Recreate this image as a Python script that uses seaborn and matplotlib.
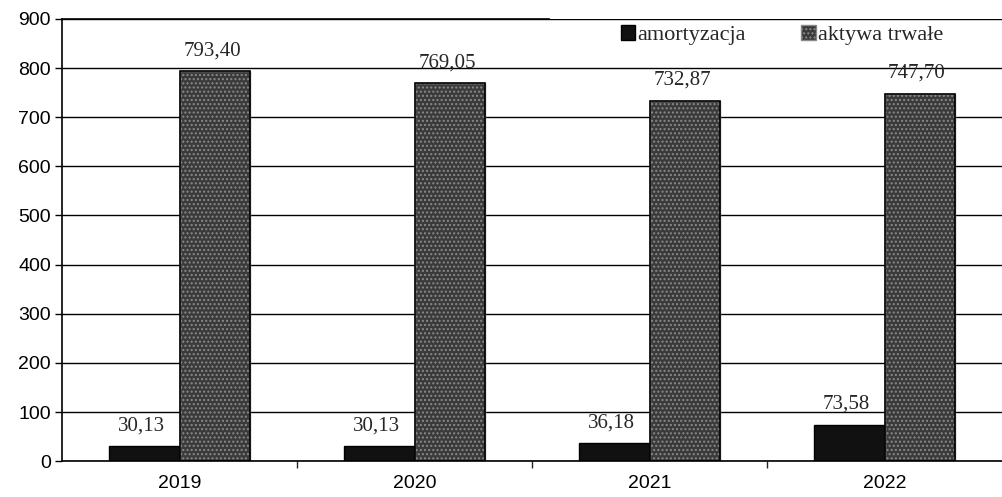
import matplotlib
matplotlib.use("Agg")
import matplotlib.pyplot as plt
import seaborn as sns
import pandas as pd
import numpy as np

years = ["2019", "2020", "2021", "2022"]
amortyzacja = [30.13, 30.13, 36.18, 73.58]
aktywa_trwale = [793.40, 769.05, 732.87, 747.70]
series_names = ["amortyzacja", "aktywa trwałe"]

df = pd.DataFrame({
    "rok": years * 2,
    "seria": [series_names[0]] * 4 + [series_names[1]] * 4,
    "wartosc": amortyzacja + aktywa_trwale,
})

sns.set_style("white")
plt.rcParams["font.family"] = ["Liberation Sans", "DejaVu Sans"]
serif = ["Liberation Serif", "DejaVu Serif"]

fig = plt.figure(figsize=(10.02, 4.97), dpi=100)
ax = fig.add_axes([0.062, 0.072, 0.938, 0.89])

ax.set_axisbelow(True)
ax.yaxis.grid(True, color="black", linewidth=1.0)

sns.barplot(data=df, x="rok", y="wartosc", hue="seria", hue_order=series_names,
            palette=["#111111", "#3a3a3a"], width=0.6, ax=ax,
            edgecolor="black", linewidth=1.0, legend=False)

# stippled fill on the fixed-assets bars
for bar in ax.containers[1]:
    bar.set_hatch("....")
    bar.set_edgecolor("#8a8a8a")
    ax.add_patch(plt.Rectangle(bar.get_xy(), bar.get_width(), bar.get_height(),
                               fill=False, edgecolor="black", linewidth=1.2, zorder=3))

def fmt(v):
    return f"{v:.2f}".replace(".", ",")

for cont, vals in zip(ax.containers, [amortyzacja, aktywa_trwale]):
    for bar, v in zip(cont, vals):
        ax.annotate(fmt(v), (bar.get_x() + bar.get_width() / 2, v),
                    xytext=(-2, 8), textcoords="offset points",
                    ha="center", va="bottom", fontsize=15, family=serif)

ax.set_ylim(0, 900)
ax.set_yticks(np.arange(0, 901, 100))
ax.set_xlim(-0.5, 3.5)
ax.set_xlabel("")
ax.set_ylabel("")
ax.tick_params(axis="both", labelsize=14, colors="black")
ax.tick_params(axis="y", length=5, width=1, left=True, direction="out", pad=3)
ax.tick_params(axis="x", length=0, pad=10)
ax.set_xticks([0.5, 1.5, 2.5], minor=True)
ax.tick_params(axis="x", which="minor", length=5, width=1, bottom=True, direction="out")

for side in ["left", "bottom", "top"]:
    ax.spines[side].set_visible(True)
    ax.spines[side].set_color("black")
    ax.spines[side].set_linewidth(1.2)
ax.spines["right"].set_visible(False)
# top border stops where the legend begins
ax.spines["top"].set_bounds(-0.5, 1.57)

handles = [plt.Rectangle((0, 0), 1, 1, facecolor="#111111", edgecolor="black"),
           plt.Rectangle((0, 0), 1, 1, facecolor="#3a3a3a", edgecolor="#8a8a8a", hatch="....")]
leg = ax.legend(handles, series_names, loc="center", bbox_to_anchor=(0.766, 0.964),
                ncol=2, frameon=False, prop={"family": serif, "size": 16},
                handlelength=0.65, handleheight=0.65, handletextpad=0.1,
                columnspacing=2.5)

fig.savefig("out.png", dpi=100, facecolor="white")
